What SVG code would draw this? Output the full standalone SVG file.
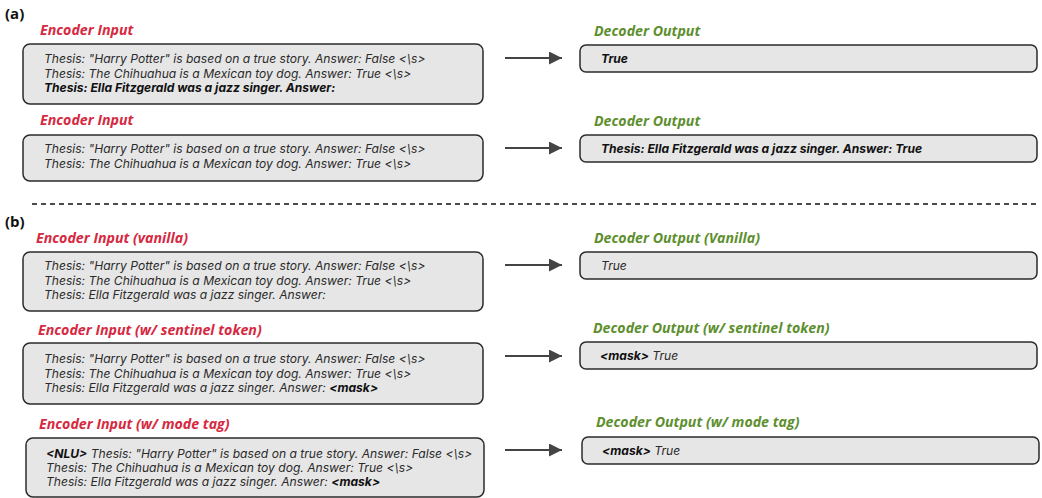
<svg xmlns="http://www.w3.org/2000/svg" width="1042" height="498" viewBox="0 0 1042 498">
<style>
.sec{font-family:"Open Sans","Noto Sans",sans-serif;font-weight:700;font-size:15px;fill:#111}
.enc{font-family:"Open Sans","Noto Sans",sans-serif;font-weight:700;font-style:italic;font-size:14.2px;fill:#d6293f}
.dec{font-family:"Open Sans","Noto Sans",sans-serif;font-weight:700;font-style:italic;font-size:14.2px;fill:#5e8f2f}
.box{fill:#e6e6e6;stroke:#2b2b2b;stroke-width:1.5}
.t{font-family:Inter,"Liberation Sans",sans-serif;font-style:italic;font-size:12.1px;fill:#2a2a2a}
.b{font-weight:700;fill:#111}
.arr{stroke:#444;stroke-width:2;fill:none}
</style>
<defs>
<marker id="ah" viewBox="0 0 10 10" refX="10" refY="5" markerWidth="6.5" markerHeight="6.5" orient="auto" markerUnits="strokeWidth">
<path d="M0,0 L10,5 L0,10 z" fill="#444"/>
</marker>
</defs>
<text class="sec" x="5" y="19">(a)</text>
<text class="sec" x="5" y="227">(b)</text>
<line x1="32" y1="204" x2="1040" y2="204" stroke="#111" stroke-width="1.5" stroke-dasharray="5,4"/>

<g id="enc-a1">
<text class="enc" x="40" y="35">Encoder Input</text>
<rect class="box" x="23" y="44" width="460" height="60" rx="7"/>
<text class="t" x="44" y="63">Thesis: "Harry Potter" is based on a true story. Answer: False &lt;\s&gt;</text>
<text class="t" x="44" y="78">Thesis: The Chihuahua is a Mexican toy dog. Answer: True &lt;\s&gt;</text>
<text class="t b" x="44" y="92">Thesis: Ella Fitzgerald was a jazz singer. Answer:</text>
</g>
<g id="dec-a1">
<text class="dec" x="594" y="36">Decoder Output</text>
<rect class="box" x="580" y="45" width="457" height="27" rx="6"/>
<text class="t b" x="601" y="63">True</text>
</g>

<g id="enc-a2">
<text class="enc" x="40" y="125">Encoder Input</text>
<rect class="box" x="23" y="135" width="460" height="46" rx="7"/>
<text class="t" x="44" y="153">Thesis: "Harry Potter" is based on a true story. Answer: False &lt;\s&gt;</text>
<text class="t" x="44" y="168">Thesis: The Chihuahua is a Mexican toy dog. Answer: True &lt;\s&gt;</text>
</g>
<g id="dec-a2">
<text class="dec" x="594" y="126">Decoder Output</text>
<rect class="box" x="580" y="135" width="457" height="27" rx="6"/>
<text class="t b" x="601" y="153">Thesis: Ella Fitzgerald was a jazz singer. Answer: True</text>
</g>

<g id="enc-b1">
<text class="enc" x="36" y="243">Encoder Input (vanilla)</text>
<rect class="box" x="23" y="252" width="460" height="59" rx="7"/>
<text class="t" x="44" y="270">Thesis: "Harry Potter" is based on a true story. Answer: False &lt;\s&gt;</text>
<text class="t" x="44" y="285">Thesis: The Chihuahua is a Mexican toy dog. Answer: True &lt;\s&gt;</text>
<text class="t" x="44" y="299">Thesis: Ella Fitzgerald was a jazz singer. Answer:</text>
</g>
<g id="dec-b1">
<text class="dec" x="594" y="243">Decoder Output (Vanilla)</text>
<rect class="box" x="580" y="252" width="457" height="27" rx="6"/>
<text class="t" x="601" y="270">True</text>
</g>

<g id="enc-b2">
<text class="enc" x="38" y="335">Encoder Input (w/ sentinel token)</text>
<rect class="box" x="23" y="343" width="460" height="61" rx="7"/>
<text class="t" x="44" y="363">Thesis: "Harry Potter" is based on a true story. Answer: False &lt;\s&gt;</text>
<text class="t" x="44" y="378">Thesis: The Chihuahua is a Mexican toy dog. Answer: True &lt;\s&gt;</text>
<text class="t" x="44" y="392">Thesis: Ella Fitzgerald was a jazz singer. Answer: <tspan class="b">&lt;mask&gt;</tspan></text>
</g>
<g id="dec-b2">
<text class="dec" x="593" y="333">Decoder Output (w/ sentinel token)</text>
<rect class="box" x="580" y="342" width="457" height="27" rx="6"/>
<text class="t" x="600" y="360"><tspan class="b">&lt;mask&gt;</tspan> True</text>
</g>

<g id="enc-b3">
<text class="enc" x="39" y="429">Encoder Input (w/ mode tag)</text>
<rect class="box" x="26" y="438" width="458" height="59" rx="7"/>
<text class="t" x="46" y="458"><tspan class="b">&lt;NLU&gt;</tspan> Thesis: "Harry Potter" is based on a true story. Answer: False &lt;\s&gt;</text>
<text class="t" x="46" y="472">Thesis: The Chihuahua is a Mexican toy dog. Answer: True &lt;\s&gt;</text>
<text class="t" x="46" y="486">Thesis: Ella Fitzgerald was a jazz singer. Answer: <tspan class="b">&lt;mask&gt;</tspan></text>
</g>
<g id="dec-b3">
<text class="dec" x="596" y="427">Decoder Output (w/ mode tag)</text>
<rect class="box" x="582" y="437" width="457" height="27" rx="6"/>
<text class="t" x="602" y="455"><tspan class="b">&lt;mask&gt;</tspan> True</text>
</g>

<g id="connectors">
<line class="arr" x1="505" y1="58" x2="562" y2="58" marker-end="url(#ah)"/>
<line class="arr" x1="505" y1="148" x2="562" y2="148" marker-end="url(#ah)"/>
<line class="arr" x1="505" y1="265" x2="562" y2="265" marker-end="url(#ah)"/>
<line class="arr" x1="505" y1="356" x2="562" y2="356" marker-end="url(#ah)"/>
<line class="arr" x1="505" y1="450" x2="562" y2="450" marker-end="url(#ah)"/>
</g>
</svg>
